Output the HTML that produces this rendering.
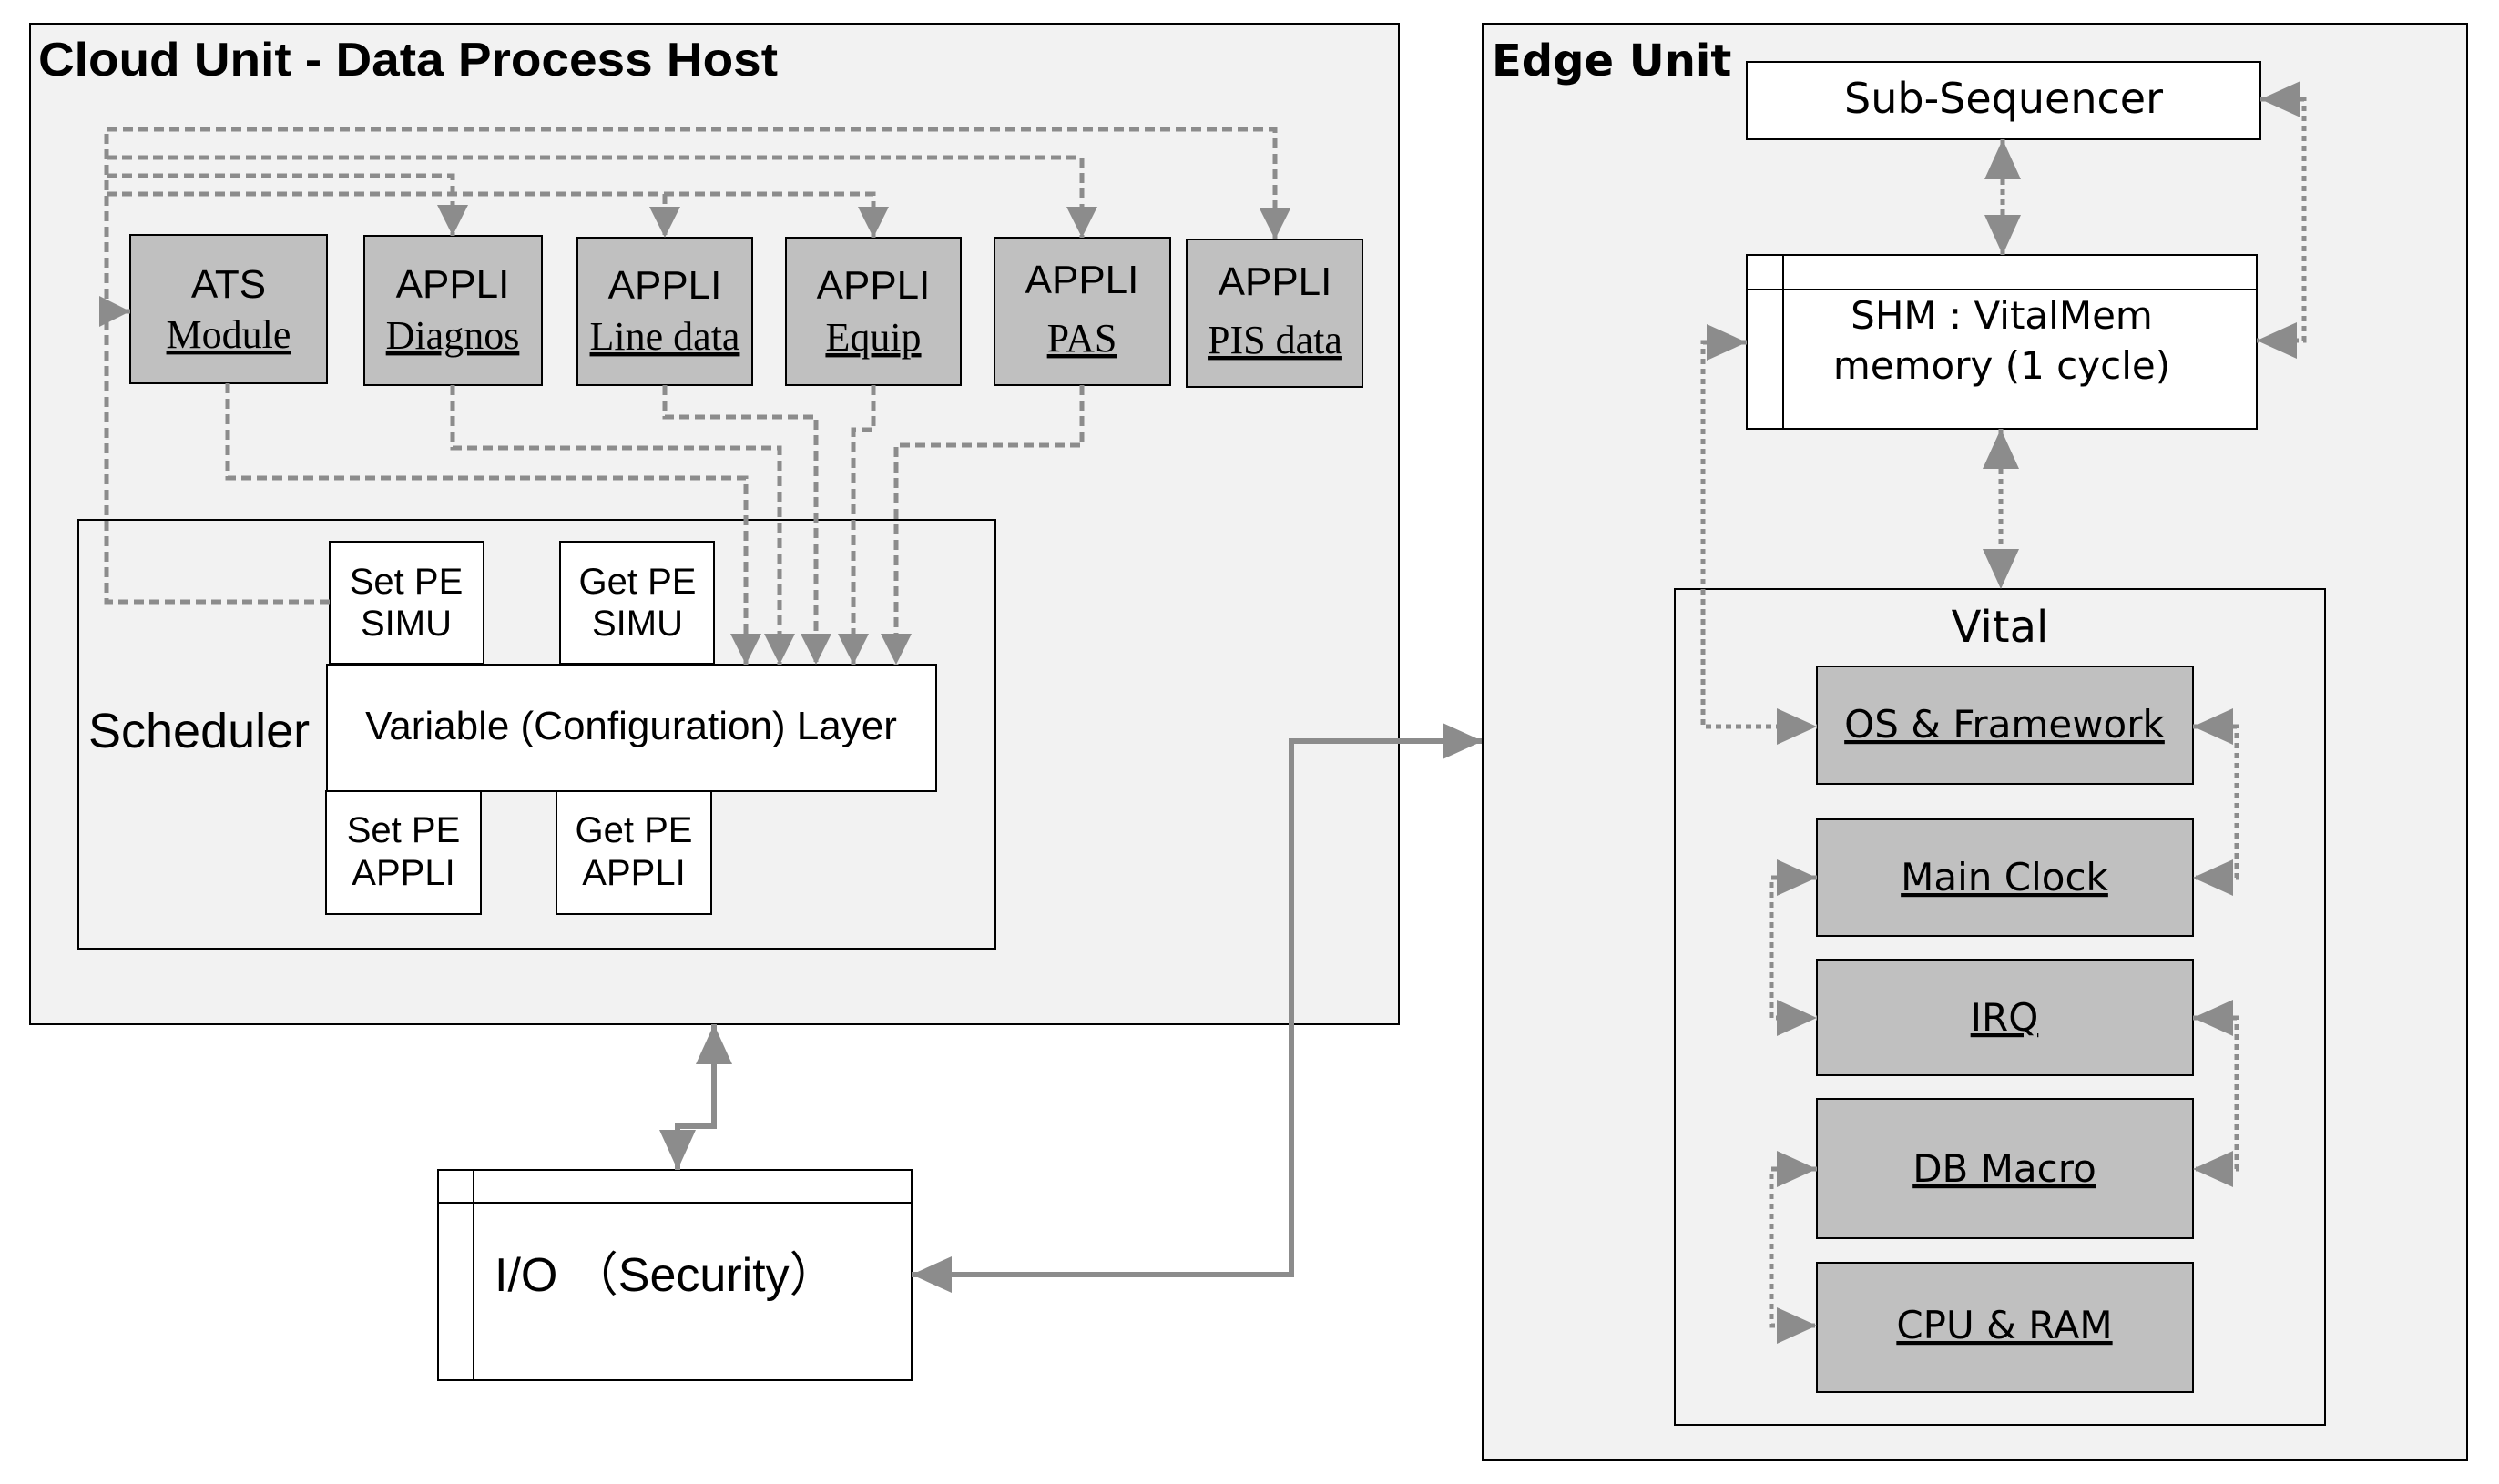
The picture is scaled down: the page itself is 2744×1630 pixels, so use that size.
<!DOCTYPE html>
<html><head><meta charset="utf-8"><style>
html,body{margin:0;padding:0;background:#fff;}
svg{display:block;}
</style></head><body>
<svg width="2744" height="1630" viewBox="0 0 2744 1630" xmlns="http://www.w3.org/2000/svg">
<defs>
<marker id="a" markerUnits="userSpaceOnUse" markerWidth="44" markerHeight="40" refX="44" refY="20" orient="auto-start-reverse"><path d="M0,0 L44,20 L0,40z" fill="#8c8c8c"/></marker>
<marker id="b" markerUnits="userSpaceOnUse" markerWidth="34" markerHeight="34" refX="34" refY="17" orient="auto-start-reverse"><path d="M0,0 L34,17 L0,34z" fill="#8c8c8c"/></marker>
</defs>
<!-- Cloud unit -->
<rect x="33" y="26" width="1503" height="1099" fill="#f2f2f2" stroke="#000" stroke-width="2"/>
<text x="42" y="83" font-family="Liberation Sans, sans-serif" font-weight="bold" font-size="52" textLength="812" lengthAdjust="spacingAndGlyphs">Cloud Unit - Data Process Host</text>

<g fill="#c0c0c0" stroke="#000" stroke-width="2">
<rect x="143" y="258" width="216" height="163"/>
<rect x="400" y="259" width="195" height="164"/>
<rect x="634" y="261" width="192" height="162"/>
<rect x="863" y="261" width="192" height="162"/>
<rect x="1092" y="261" width="193" height="162"/>
<rect x="1303" y="263" width="193" height="162"/>
</g>
<g font-family="Liberation Sans, sans-serif" font-size="44" text-anchor="middle">
<text x="251" y="327">ATS</text>
<text x="497" y="327">APPLI</text>
<text x="730" y="328">APPLI</text>
<text x="959" y="328">APPLI</text>
<text x="1188" y="322">APPLI</text>
<text x="1400" y="324">APPLI</text>
</g>
<g font-family="Liberation Serif, serif" font-size="44" text-anchor="middle" text-decoration="underline">
<text x="251" y="382">Module</text>
<text x="497" y="383">Diagnos</text>
<text x="730" y="384">Line data</text>
<text x="959" y="385">Equip</text>
<text x="1188" y="386">PAS</text>
<text x="1400" y="388">PIS data</text>
</g>

<!-- Scheduler -->
<rect x="86" y="571" width="1007" height="471" fill="#f2f2f2" stroke="#000" stroke-width="2"/>
<text x="97" y="821" font-family="Liberation Sans, sans-serif" font-size="54">Scheduler</text>
<g fill="#fff" stroke="#000" stroke-width="2">
<rect x="362" y="595" width="169" height="134"/>
<rect x="615" y="595" width="169" height="134"/>
<rect x="358" y="869" width="170" height="135"/>
<rect x="611" y="869" width="170" height="135"/>
<rect x="359" y="730" width="669" height="139"/>
</g>
<g font-family="Liberation Sans, sans-serif" font-size="40" text-anchor="middle">
<text x="446" y="652">Set PE</text><text x="446" y="698">SIMU</text>
<text x="700" y="652">Get PE</text><text x="700" y="698">SIMU</text>
<text x="443" y="925">Set PE</text><text x="443" y="972">APPLI</text>
<text x="696" y="925">Get PE</text><text x="696" y="972">APPLI</text>
<text x="693" y="812" font-size="44">Variable (Configuration) Layer</text>
</g>

<!-- cloud dashed connectors -->
<g fill="none" stroke="#8c8c8c" stroke-width="5" stroke-dasharray="11 6">
<path d="M362,661 H117 V142 H1400 V263" marker-end="url(#b)"/>
<path d="M117,173 H1188 V261" marker-end="url(#b)"/>
<path d="M117,193 H497 V259" marker-end="url(#b)"/>
<path d="M117,213 H959 V261" marker-end="url(#b)"/>
<path d="M730,213 V261" marker-end="url(#b)"/>
<path d="M117,342 H143" marker-end="url(#b)"/>
<path d="M250,421 V525 H819 V730" marker-end="url(#b)"/>
<path d="M497,423 V492 H856 V730" marker-end="url(#b)"/>
<path d="M730,423 V458 H896 V730" marker-end="url(#b)"/>
<path d="M959,423 V472 H937 V730" marker-end="url(#b)"/>
<path d="M1188,423 V489 H984 V730" marker-end="url(#b)"/>
</g>

<!-- I/O -->
<rect x="481" y="1285" width="520" height="231" fill="#fff" stroke="#000" stroke-width="2"/>
<line x1="481" y1="1321" x2="1001" y2="1321" stroke="#000" stroke-width="2"/>
<line x1="520" y1="1285" x2="520" y2="1516" stroke="#000" stroke-width="2"/>
<text x="543" y="1418" font-family="Liberation Sans, 'Noto Sans CJK SC', sans-serif" font-size="52">I/O （Security）</text>

<g fill="none" stroke="#8c8c8c" stroke-width="6">
<path d="M784,1125 V1237 H744 V1285" marker-start="url(#a)" marker-end="url(#a)"/>
<path d="M1001,1400 H1418 V814 H1628" marker-start="url(#a)" marker-end="url(#a)"/>
</g>

<!-- Edge unit -->
<rect x="1628" y="26" width="1081" height="1578" fill="#f2f2f2" stroke="#000" stroke-width="2"/>
<text x="1638" y="83" font-family="DejaVu Sans, sans-serif" font-weight="bold" font-size="48">Edge Unit</text>

<rect x="1918" y="68" width="564" height="85" fill="#fff" stroke="#000" stroke-width="2"/>
<text x="2200" y="124" text-anchor="middle" font-family="DejaVu Sans, sans-serif" font-size="46">Sub-Sequencer</text>

<rect x="1918" y="280" width="560" height="191" fill="#fff" stroke="#000" stroke-width="2"/>
<line x1="1918" y1="318" x2="2478" y2="318" stroke="#000" stroke-width="2"/>
<line x1="1958" y1="280" x2="1958" y2="471" stroke="#000" stroke-width="2"/>
<g font-family="DejaVu Sans, sans-serif" font-size="42" text-anchor="middle">
<text x="2198" y="361">SHM : VitalMem</text>
<text x="2198" y="416">memory (1 cycle)</text>
</g>

<rect x="1839" y="647" width="714" height="918" fill="#f2f2f2" stroke="#000" stroke-width="2"/>
<text x="2196" y="705" text-anchor="middle" font-family="DejaVu Sans, sans-serif" font-size="48">Vital</text>

<g fill="#c0c0c0" stroke="#000" stroke-width="2">
<rect x="1995" y="732" width="413" height="129"/>
<rect x="1995" y="900" width="413" height="128"/>
<rect x="1995" y="1054" width="413" height="127"/>
<rect x="1995" y="1207" width="413" height="153"/>
<rect x="1995" y="1387" width="413" height="142"/>
</g>
<g font-family="DejaVu Sans, sans-serif" font-size="42" text-anchor="middle" text-decoration="underline">
<text x="2201" y="810">OS &amp; Framework</text>
<text x="2201" y="978">Main Clock</text>
<text x="2201" y="1132">IRQ</text>
<text x="2201" y="1298">DB Macro</text>
<text x="2201" y="1470">CPU &amp; RAM</text>
</g>

<g fill="none" stroke="#8c8c8c" stroke-width="5" stroke-dasharray="6 5">
<path d="M2199,153 V280" marker-start="url(#a)" marker-end="url(#a)"/>
<path d="M2197,471 V647" marker-start="url(#a)" marker-end="url(#a)"/>
<path d="M2482,109 H2530 V374 H2478" marker-start="url(#a)" marker-end="url(#a)"/>
<path d="M1918,376 H1870 V798 H1995" marker-start="url(#a)" marker-end="url(#a)"/>
<path d="M2408,798 H2456 V964 H2408" marker-start="url(#a)" marker-end="url(#a)"/>
<path d="M1995,964 H1945 V1118 H1995" marker-start="url(#a)" marker-end="url(#a)"/>
<path d="M2408,1118 H2456 V1284 H2408" marker-start="url(#a)" marker-end="url(#a)"/>
<path d="M1995,1284 H1945 V1456 H1995" marker-start="url(#a)" marker-end="url(#a)"/>
</g>
</svg>
</body></html>
